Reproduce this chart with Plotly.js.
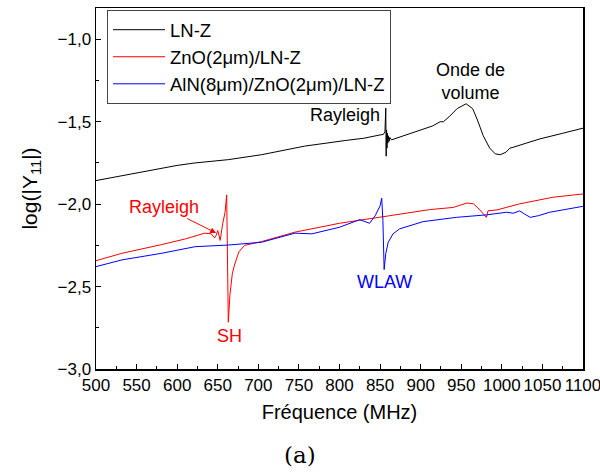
<!DOCTYPE html>
<html>
<head>
<meta charset="utf-8">
<script src="https://cdn.plot.ly/plotly-3.0.1.min.js"></script>
<style>html,body{margin:0;padding:0;background:#fff;}#chart{width:600px;height:473px;}</style>
</head>
<body>
<div id="chart"></div>
<script>
// Frequencies (MHz) and log(|Y11|) values
const freqLN = [500,550,600,622,663,704,757,807,830,850,854,856,857,857.5,858,858.5,859,859.5,860,861,862,864,870,902,915,924,928,935,945,956,964,970,977,985,992,998,1005,1010,1014,1030,1047,1075,1100];
const valLN  = [-1.857,-1.81,-1.765,-1.75,-1.73,-1.70,-1.648,-1.614,-1.60,-1.58,-1.577,-1.56,-1.418,-1.709,-1.55,-1.66,-1.57,-1.63,-1.585,-1.62,-1.595,-1.61,-1.60,-1.543,-1.525,-1.50,-1.50,-1.47,-1.42,-1.391,-1.42,-1.49,-1.584,-1.66,-1.695,-1.70,-1.685,-1.66,-1.655,-1.63,-1.604,-1.57,-1.539];

const freqZnO = [500,532,581,610,634,642,646,648,650,653,656,659,661,662,663,665,668,671,676,683,704,745,800,862,911,940,957,965,972,981,983,994,1022,1063,1100];
const valZnO  = [-2.343,-2.298,-2.245,-2.211,-2.176,-2.18,-2.205,-2.19,-2.16,-2.22,-2.12,-2.05,-1.944,-2.3,-2.716,-2.55,-2.42,-2.363,-2.29,-2.25,-2.227,-2.17,-2.116,-2.07,-2.033,-2.02,-1.993,-1.998,-2.03,-2.08,-2.04,-2.035,-1.998,-1.958,-1.938];

const freqAlN = [500,532,581,622,663,704,745,766,800,825,837,844,850,852,853.5,855,857,860,866,874,903,944,981,1006,1014,1022,1028,1035,1045,1059,1100];
const valAlN  = [-2.379,-2.338,-2.298,-2.258,-2.248,-2.231,-2.176,-2.18,-2.14,-2.094,-2.116,-2.07,-2.01,-1.964,-2.1,-2.397,-2.3,-2.231,-2.18,-2.15,-2.106,-2.08,-2.065,-2.049,-2.055,-2.041,-2.06,-2.08,-2.07,-2.049,-2.013];

const seriesNames = ['LN-Z','ZnO(2\u03bcm)/LN-Z','AlN(8\u03bcm)/ZnO(2\u03bcm)/LN-Z'];
const yTickVals = [-3.0,-2.5,-2.0,-1.5,-1.0];
const yTickText = ['\u22123,0','\u22122,5','\u22122,0','\u22121,5','\u22121,0'];
const xTickVals = [500,550,600,650,700,750,800,850,900,950,1000,1050,1100];

const font = "'Liberation Sans', Arial, sans-serif";

const traces = [
  {x: freqLN, y: valLN, name: seriesNames[0], mode: 'lines', line: {color: '#000000', width: 1}},
  {x: freqZnO, y: valZnO, name: seriesNames[1], mode: 'lines', line: {color: '#ff0000', width: 1}},
  {x: freqAlN, y: valAlN, name: seriesNames[2], mode: 'lines', line: {color: '#0000ff', width: 1}}
];

const layout = {
  width: 600, height: 473,
  margin: {l: 96, r: 17, t: 8, b: 104},
  paper_bgcolor: '#fff', plot_bgcolor: '#fff',
  font: {family: font, size: 17, color: '#000'},
  showlegend: true,
  legend: {
    x: 0.0226, y: 0.994, xanchor: 'left', yanchor: 'top',
    bordercolor: '#444', borderwidth: 1, bgcolor: '#fff',
    font: {family: font, size: 18.5, color: '#000'},
    itemwidth: 52
  },
  xaxis: {
    range: [500, 1100], tickvals: xTickVals,
    ticks: 'inside', ticklen: 5, tickwidth: 1, tickcolor: '#000',
    minor: {ticks: 'inside', ticklen: 3, dtick: 25, tickcolor: '#000'},
    showline: true, linecolor: '#000', linewidth: 1.5, mirror: true,
    showgrid: false, zeroline: false, ticklabeloverflow: 'allow',
    tickfont: {family: font, size: 17},
    title: {text: 'Fréquence (MHz)', font: {family: font, size: 20}, standoff: 11}
  },
  yaxis: {
    range: [-3.0, -0.81], tickvals: yTickVals, ticktext: yTickText,
    ticks: 'inside', ticklen: 5, tickwidth: 1, tickcolor: '#000',
    minor: {ticks: 'inside', ticklen: 3, dtick: 0.25, tickcolor: '#000'},
    showline: true, linecolor: '#000', linewidth: 1.5, mirror: true,
    showgrid: false, zeroline: false,
    tickfont: {family: font, size: 17},
    title: {text: 'log(|Y<sub>11</sub>|)', font: {family: font, size: 21}, standoff: 14}
  },
  annotations: [
    {x: 806.7, y: -1.458, xref: 'x', yref: 'y', text: 'Rayleigh', showarrow: false, font: {family: font, size: 18, color: '#000'}},
    {x: 961, y: -1.258, xref: 'x', yref: 'y', text: 'Onde de<br>volume', showarrow: false, font: {family: font, size: 18, color: '#000'}},
    {x: 648, y: -2.175, xref: 'x', yref: 'y', text: 'Rayleigh', showarrow: true, arrowhead: 2, arrowsize: 1.2, arrowwidth: 1, arrowcolor: '#ff0000', ax: -52, ay: -26, font: {family: font, size: 18, color: '#ff0000'}},
    {x: 665, y: -2.80, xref: 'x', yref: 'y', text: 'SH', showarrow: false, font: {family: font, size: 18, color: '#ff0000'}},
    {x: 856, y: -2.47, xref: 'x', yref: 'y', text: 'WLAW', showarrow: false, font: {family: font, size: 18, color: '#0000ff'}},
    {x: 0.419, y: -0.238, xref: 'paper', yref: 'paper', xanchor: 'center', yanchor: 'middle', text: '(a)', showarrow: false, font: {family: "'DejaVu Serif', 'Liberation Serif', serif", size: 23, color: '#000'}}
  ]
};

Plotly.newPlot('chart', traces, layout, {displayModeBar: false, staticPlot: true});
</script>
</body>
</html>
